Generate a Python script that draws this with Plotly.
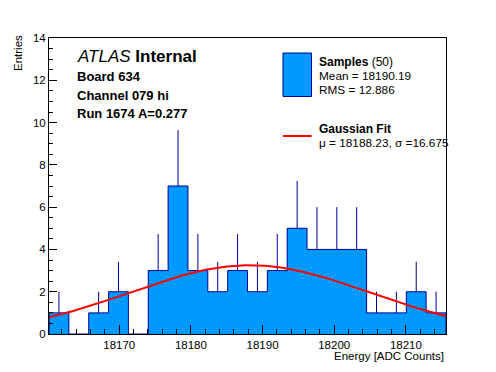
import numpy as np
import plotly.graph_objects as go

# ---- data ----
x_min = 18160.2
x_max = 18215.6
n_bins = 20
counts = [1, 0, 1, 2, 0, 3, 7, 3, 2, 3, 2, 3, 5, 4, 4, 4, 1, 1, 2, 1]
fit_mu = 18188.23
fit_sigma = 16.675
fit_amp = 3.25
y_ticks = [0, 2, 4, 6, 8, 10, 12, 14]
x_ticks = [18170, 18180, 18190, 18200, 18210]

bw = (x_max - x_min) / n_bins
edges = x_min + bw * np.arange(n_bins + 1)
centers = edges[:-1] + bw / 2
counts = np.array(counts, dtype=float)

FILL = "#0099FF"
EDGE = "#000099"
FONT = "Liberation Sans, Arial, Helvetica, sans-serif"

fig = go.Figure()

# filled bars
fig.add_trace(go.Bar(x=centers, y=counts, width=bw, marker=dict(color=FILL, line=dict(width=0)),
                     hoverinfo="skip", showlegend=False))

# step outline
sx = [edges[0]] + list(edges[:-1]) + [edges[-1], edges[-1]]
sy = [0] + list(counts) + [counts[-1], 0]
fig.add_trace(go.Scatter(x=sx, y=sy, mode="lines", line=dict(color=EDGE, width=1, shape="hv"),
                         hoverinfo="skip", showlegend=False))

# error bars (upper half visible)
ex, ey = [], []
for c, n in zip(centers, counts):
    if n > 0:
        ex += [c, c, None]
        ey += [n, n + np.sqrt(n), None]
fig.add_trace(go.Scatter(x=ex, y=ey, mode="lines", line=dict(color=EDGE, width=1),
                         hoverinfo="skip", showlegend=False))

# gaussian fit
gx = np.linspace(x_min, x_max, 300)
gy = fit_amp * np.exp(-0.5 * ((gx - fit_mu) / fit_sigma) ** 2)
fig.add_trace(go.Scatter(x=gx, y=gy, mode="lines", line=dict(color="#FF0000", width=2),
                         hoverinfo="skip", showlegend=False))

L, R, T, B = 49, 446, 38, 334
W, H = 496, 372


def px(p):
    return (p - L) / (R - L)


def py(q):
    return (B - q) / (B - T)


annotations = []


def text(x, y, s, size, xanchor="left", yanchor="middle", bold=False, italic=False, textangle=0):
    if bold:
        s = "<b>" + s + "</b>"
    if italic:
        s = "<i>" + s + "</i>"
    annotations.append(dict(x=px(x), y=py(y), xref="paper", yref="paper", text=s, showarrow=False,
                            xanchor=xanchor, yanchor=yanchor, textangle=textangle,
                            font=dict(family=FONT, size=size, color="black")))


text(75, 57, "<i>ATLAS</i> <b>Internal</b>", 17)
text(75, 76, "Board 634", 13, bold=True)
text(75, 95, "Channel 079 hi", 13, bold=True)
text(75, 113.5, "Run 1674 A=0.277", 13, bold=True)

text(317, 62, "<b>Samples</b> (50)", 12)
text(317, 76, "Mean = 18190.19", 11.8)
text(317, 90, "RMS = 12.886", 11.8)
text(317, 128.5, "Gaussian Fit", 12, bold=True)
text(317, 142.5, "\u03bc = 18188.23, \u03c3 =16.675", 11.8)

text(446, 356, "Energy [ADC Counts]", 11.5, xanchor="right")
text(18, 53, "Entries", 11.5, xanchor="center", textangle=-90)

shapes = [
    dict(type="rect", xref="paper", yref="paper", x0=px(283), x1=px(311.5), y0=py(53), y1=py(96.5),
         fillcolor=FILL, line=dict(color=EDGE, width=1)),
    dict(type="line", xref="paper", yref="paper", x0=px(283), x1=px(311.5), y0=py(136), y1=py(136),
         line=dict(color="#FF0000", width=2)),
]

fig.update_layout(
    width=W, height=H,
    margin=dict(l=L, r=W - R, t=T, b=H - B, pad=0),
    paper_bgcolor="white", plot_bgcolor="white",
    bargap=0,
    annotations=annotations,
    shapes=shapes,
    font=dict(family=FONT, size=11.5, color="black"),
    xaxis=dict(range=[x_min, x_max], tickvals=x_ticks, ticktext=[str(v) for v in x_ticks],
               ticks="inside", ticklen=9, tickcolor="black", tickwidth=1,
               minor=dict(dtick=2, ticks="inside", ticklen=5, tickcolor="black"),
               showline=True, linecolor="black", linewidth=1, mirror=True,
               showgrid=False, zeroline=False, tickfont=dict(size=11.5), automargin=False),
    yaxis=dict(range=[0, 14], tickvals=y_ticks, ticktext=[str(v) for v in y_ticks],
               ticks="inside", ticklen=8, tickcolor="black", tickwidth=1,
               minor=dict(dtick=0.5, ticks="inside", ticklen=4, tickcolor="black"),
               showline=True, linecolor="black", linewidth=1, mirror=True,
               showgrid=False, zeroline=False, tickfont=dict(size=11.5), automargin=False),
)

fig.write_html("out.html", config={"displayModeBar": False},
               post_script="document.body.style.margin='0';document.body.style.overflow='hidden';")
